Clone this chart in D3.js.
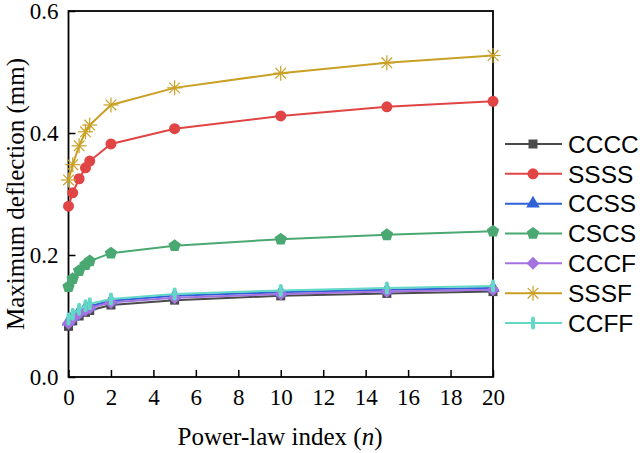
<!DOCTYPE html>
<html><head><meta charset="utf-8">
<script src="https://cdn.jsdelivr.net/npm/d3@7"></script>
<style>body{margin:0;background:#fff}svg{display:block}</style>
</head><body>
<svg id="c" width="640" height="453"></svg>
<script>
const nValues = [0, 0.2, 0.5, 0.8, 1, 2, 5, 10, 15, 20];
const seriesNames = ["CCCC","SSSS","CCSS","CSCS","CCCF","SSSF","CCFF"];
const CCCC = [0.083,0.092,0.100,0.106,0.109,0.118,0.126,0.133,0.137,0.140];
const SSSS = [0.280,0.302,0.325,0.343,0.354,0.382,0.407,0.428,0.443,0.452];
const CCSS = [0.091,0.099,0.107,0.113,0.116,0.125,0.133,0.139,0.143,0.146];
const CSCS = [0.148,0.161,0.174,0.184,0.190,0.203,0.215,0.226,0.233,0.239];
const CCCF = [0.088,0.096,0.104,0.110,0.113,0.122,0.130,0.136,0.140,0.143];
const SSSF = [0.323,0.348,0.379,0.402,0.413,0.446,0.474,0.498,0.515,0.527];
const CCFF = [0.095,0.103,0.111,0.117,0.120,0.128,0.136,0.142,0.146,0.149];
const xTicks = [0,2,4,6,8,10,12,14,16,18,20];
const yTicks = [0.0,0.2,0.4,0.6];

const seriesValues = [CCCC,SSSS,CCSS,CSCS,CCCF,SSSF,CCFF];
const colors = ["#4a4a4a","#e04444","#2f62d6","#4aa872","#a374e0","#c9a024","#62d9c7"];
const shapes = ["square","circle","triangle","pentagon","diamond","star","bar"];

const svg = d3.select("#c");
const L=68.5, R=493, T=11, B=377;
const x = d3.scaleLinear().domain([0,20]).range([L,R]);
const y = d3.scaleLinear().domain([0,0.6]).range([B,T]);

function marker(g, shape, color, cx, cy){
  if(shape==="square"){
    g.append("rect").attr("x",cx-4.5).attr("y",cy-4.5).attr("width",9).attr("height",9).attr("fill",color);
  } else if(shape==="circle"){
    g.append("circle").attr("cx",cx).attr("cy",cy).attr("r",5.5).attr("fill",color);
  } else if(shape==="triangle"){
    g.append("path").attr("d",d3.symbol(d3.symbolTriangle,80)()).attr("transform",`translate(${cx},${cy})`).attr("fill",color);
  } else if(shape==="pentagon"){
    const r=6.5; const pts=d3.range(5).map(i=>{const a=-Math.PI/2+i*2*Math.PI/5;return [cx+r*Math.cos(a),cy+r*Math.sin(a)];});
    g.append("polygon").attr("points",pts.map(p=>p.join(",")).join(" ")).attr("fill",color);
  } else if(shape==="diamond"){
    const r=6.5;
    g.append("polygon").attr("points",`${cx},${cy-r} ${cx+r},${cy} ${cx},${cy+r} ${cx-r},${cy}`).attr("fill",color);
  } else if(shape==="star"){
    const r=7.5;
    for(let i=0;i<4;i++){const a=i*Math.PI/4;
      g.append("line").attr("x1",cx-r*Math.cos(a)).attr("y1",cy-r*Math.sin(a)).attr("x2",cx+r*Math.cos(a)).attr("y2",cy+r*Math.sin(a)).attr("stroke",color).attr("stroke-width",1.2);}
  } else if(shape==="bar"){
    g.append("rect").attr("x",cx-2).attr("y",cy-6.5).attr("width",4).attr("height",13).attr("rx",2).attr("fill",color);
  }
}

// axes
const xAxis = d3.axisBottom(x).tickValues(xTicks).tickSizeInner(-7).tickSizeOuter(0).tickPadding(12).tickFormat(d3.format("d"));
const yAxis = d3.axisLeft(y).tickValues(yTicks).tickSizeInner(-7).tickSizeOuter(0).tickPadding(10).tickFormat(d3.format(".1f"));
const gx = svg.append("g").attr("transform",`translate(0,${B})`).call(xAxis);
const gy = svg.append("g").attr("transform",`translate(${L},0)`).call(yAxis);
[gx,gy].forEach(g=>{
  g.select(".domain").remove();
  g.selectAll(".tick line").attr("stroke","#000").attr("stroke-width",1.5);
  g.selectAll(".tick text").attr("font-family","Liberation Serif").attr("font-size",23).attr("fill","#000");
});
gx.selectAll(".tick text").attr("dy","0.68em");
svg.append("rect").attr("x",L).attr("y",T).attr("width",R-L).attr("height",B-T).attr("fill","none").attr("stroke","#000").attr("stroke-width",1.8);

// series
const line = d3.line().x((d,i)=>x(nValues[i])).y(d=>y(d));
seriesValues.forEach((vals,k)=>{
  const g = svg.append("g");
  g.append("path").datum(vals).attr("d",line).attr("fill","none").attr("stroke",colors[k]).attr("stroke-width",2);
  vals.forEach((v,i)=>marker(g,shapes[k],colors[k],x(nValues[i]),y(v)));
});

// legend
const legY = d3.scaleLinear().domain([0,6]).range([144,323]);
seriesNames.forEach((name,k)=>{
  const g = svg.append("g");
  const yy = legY(k);
  g.append("line").attr("x1",505).attr("x2",562).attr("y1",yy).attr("y2",yy).attr("stroke",colors[k]).attr("stroke-width",2);
  marker(g,shapes[k],colors[k],533,yy);
  g.append("text").attr("x",568).attr("y",yy).attr("dy","0.36em").attr("font-family","Liberation Sans").attr("font-size",24.5).attr("fill","#000").text(name);
});

// titles
const xt = svg.append("text").attr("x",280).attr("y",445).attr("text-anchor","middle").attr("font-family","Liberation Serif").attr("font-size",25).attr("fill","#000");
xt.append("tspan").text("Power-law index (");
xt.append("tspan").attr("font-style","italic").text("n");
xt.append("tspan").text(")");
svg.append("text").attr("transform","translate(24,194) rotate(-90)").attr("text-anchor","middle").attr("font-family","Liberation Serif").attr("font-size",25).attr("fill","#000").text("Maximum deflection (mm)");
</script>
</body></html>
